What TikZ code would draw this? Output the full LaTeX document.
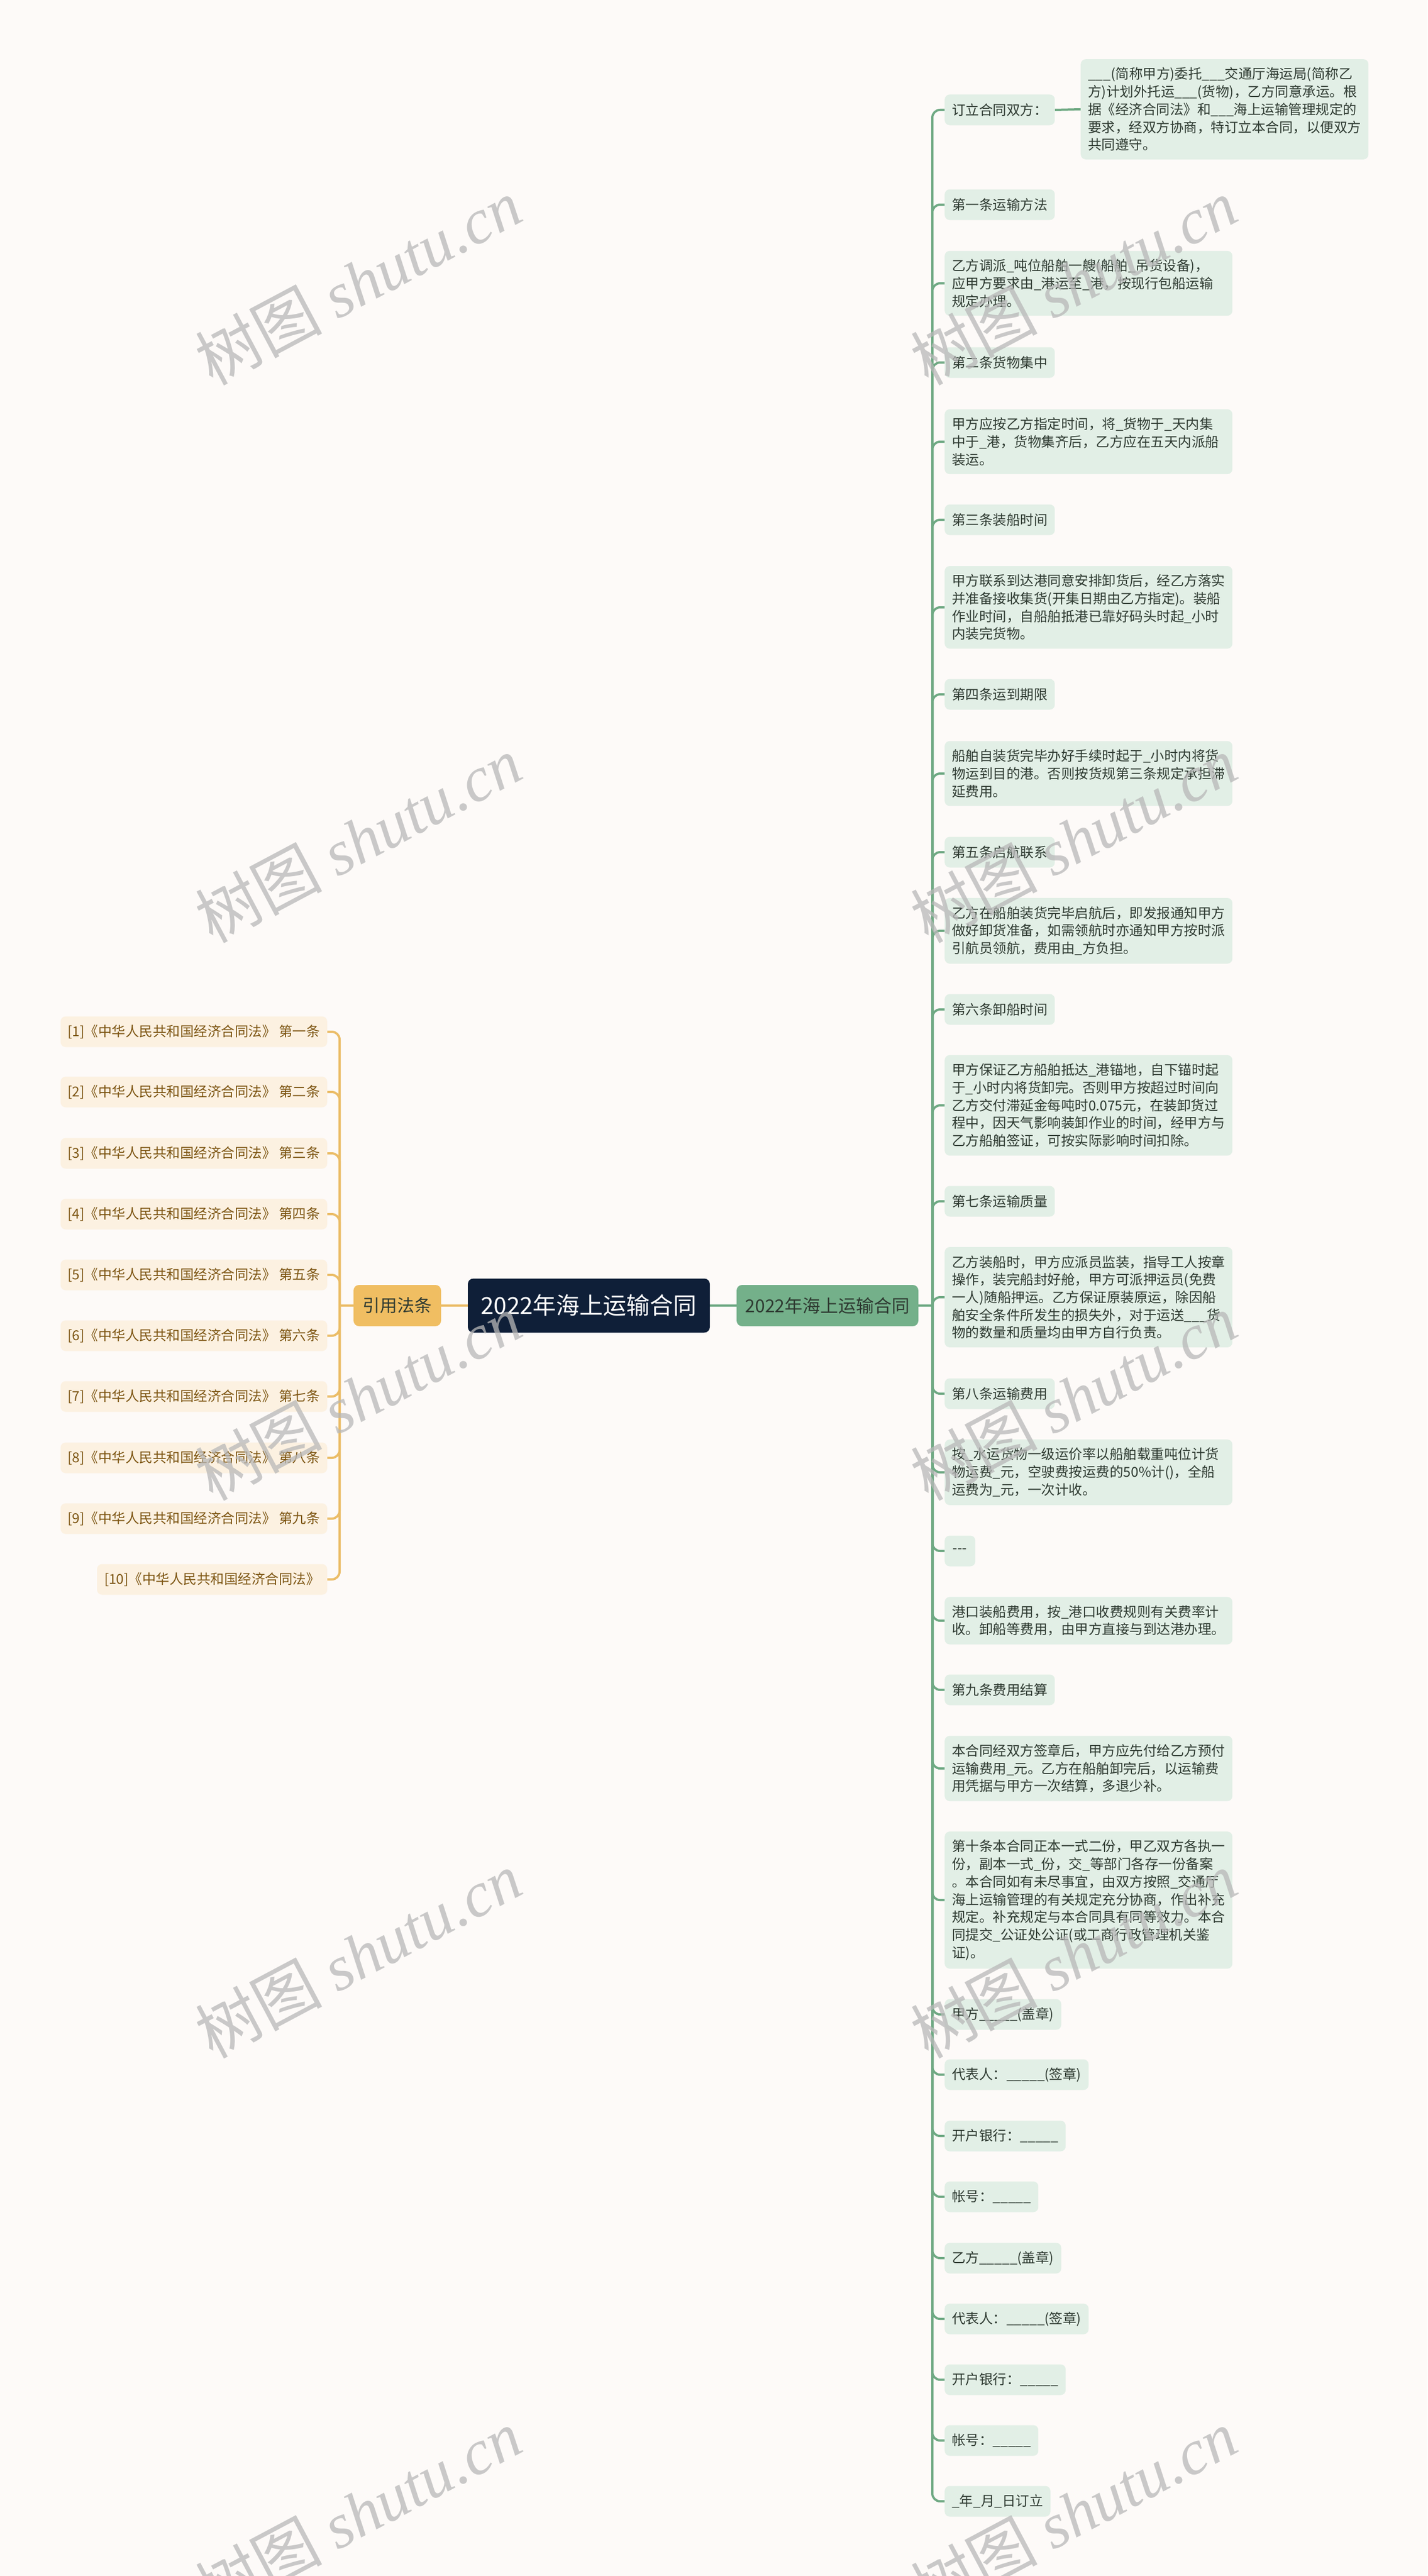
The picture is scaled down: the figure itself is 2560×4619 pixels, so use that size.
\documentclass[tikz,border=0pt]{standalone}
\usepackage{fontspec}
\setmainfont{Noto Sans CJK SC}
\newfontfamily\wmlat{Liberation Serif}
\usetikzlibrary{backgrounds}
\definecolor{cBg}{HTML}{FDFAF8}
\definecolor{cLeafG}{HTML}{E2EFE6}
\definecolor{cLeafTxt}{HTML}{2E3A31}
\definecolor{cGLine}{HTML}{6FA983}
\definecolor{cGNode}{HTML}{74B08A}
\definecolor{cRoot}{HTML}{0F1F38}
\definecolor{cONode}{HTML}{F0BE62}
\definecolor{cOLine}{HTML}{EBBD68}
\definecolor{cLLeaf}{HTML}{FCF1E1}
\definecolor{cLTxt}{HTML}{7D5512}
\definecolor{cWm}{HTML}{B8B8B8}
\tikzset{
  lf/.style={fill=cLeafG, rounded corners=9pt, inner xsep=13pt, inner ysep=0pt,
    minimum height=55pt, text=cLeafTxt, font=\fontsize{24.5}{31.7}\selectfont, anchor=west},
  pr/.style={lf, text width=490pt, align=left, inner ysep=15pt},
  ll/.style={fill=cLLeaf, rounded corners=9pt, inner xsep=13pt, inner ysep=0pt,
    minimum height=55pt, text=cLTxt, font=\fontsize{24.5}{31.7}\selectfont, anchor=east},
  gl/.style={draw=cGLine, line width=4pt},
  ol/.style={draw=cOLine, line width=4pt},
  wm/.style={text=cWm, opacity=0.75, font=\fontsize{114}{114}\selectfont, rotate=28},
}
\begin{document}
\begin{tikzpicture}[x=1pt,y=-1pt]
\useasboundingbox (0,0) rectangle (2560,4619);

% main nodes
\node[fill=cRoot, rounded corners=10pt, text=white, minimum width=434pt, minimum height=97pt,
  inner sep=0pt, font=\fontsize{42}{48}\selectfont] (root) at (1056,2341) {2022年海上运输合同};
\node[fill=cGNode, rounded corners=10pt, text=cLeafTxt, minimum width=326pt, minimum height=74pt,
  inner sep=0pt, font=\fontsize{32}{38}\selectfont] (g) at (1484,2341) {2022年海上运输合同};
\node[fill=cONode, rounded corners=10pt, text=cLeafTxt, minimum width=157pt, minimum height=74pt,
  inner sep=0pt, font=\fontsize{31}{36}\selectfont] (yin) at (712.5,2341) {引用法条};

\coordinate (gj) at (1672,2341);
\coordinate (lj) at (609,2341);

% right children
\node[lf] (r1) at (1694,197) {订立合同双方：};
\node[pr] (s1) at (1938,196) {\_\_\_(简称甲方)委托\_\_\_交通厅海运局(简称乙\\方)计划外托运\_\_\_(货物)，乙方同意承运。根\\据《经济合同法》和\_\_\_海上运输管理规定的\\要求，经双方协商，特订立本合同，以便双方\\共同遵守。};
\node[lf] (r2) at (1694,367) {第一条运输方法};
\node[pr] (r3) at (1694,508) {乙方调派\_吨位船舶一艘(船舶\_吊货设备)，\\应甲方要求由\_港运至\_港，按现行包船运输\\规定办理。};
\node[lf] (r4) at (1694,650) {第二条货物集中};
\node[pr] (r5) at (1694,792) {甲方应按乙方指定时间，将\_货物于\_天内集\\中于\_港，货物集齐后，乙方应在五天内派船\\装运。};
\node[lf] (r6) at (1694,932) {第三条装船时间};
\node[pr] (r7) at (1694,1089) {甲方联系到达港同意安排卸货后，经乙方落实\\并准备接收集货(开集日期由乙方指定)。装船\\作业时间，自船舶抵港已靠好码头时起\_小时\\内装完货物。};
\node[lf] (r8) at (1694,1245) {第四条运到期限};
\node[pr] (r9) at (1694,1387) {船舶自装货完毕办好手续时起于\_小时内将货\\物运到目的港。否则按货规第三条规定承担滞\\延费用。};
\node[lf] (r10) at (1694,1528) {第五条启航联系};
\node[pr] (r11) at (1694,1669) {乙方在船舶装货完毕启航后，即发报通知甲方\\做好卸货准备，如需领航时亦通知甲方按时派\\引航员领航，费用由\_方负担。};
\node[lf] (r12) at (1694,1810) {第六条卸船时间};
\node[pr] (r13) at (1694,1982) {甲方保证乙方船舶抵达\_港锚地，自下锚时起\\于\_小时内将货卸完。否则甲方按超过时间向\\乙方交付滞延金每吨时0.075元，在装卸货过\\程中，因天气影响装卸作业的时间，经甲方与\\乙方船舶签证，可按实际影响时间扣除。};
\node[lf] (r14) at (1694,2154) {第七条运输质量};
\node[pr] (r15) at (1694,2326) {乙方装船时，甲方应派员监装，指导工人按章\\操作，装完船封好舱，甲方可派押运员(免费\\一人)随船押运。乙方保证原装原运，除因船\\舶安全条件所发生的损失外，对于运送\_\_\_货\\物的数量和质量均由甲方自行负责。};
\node[lf] (r16) at (1694,2499) {第八条运输费用};
\node[pr] (r17) at (1694,2640) {按\_水运货物一级运价率以船舶载重吨位计货\\物运费\_元，空驶费按运费的50\%计()，全船\\运费为\_元，一次计收。};
\node[lf, minimum width=55pt] (r18) at (1694,2781) {-{}-{}-};
\node[pr] (r19) at (1694,2906) {港口装船费用，按\_港口收费规则有关费率计\\收。卸船等费用，由甲方直接与到达港办理。};
\node[lf] (r20) at (1694,3030) {第九条费用结算};
\node[pr] (r21) at (1694,3171) {本合同经双方签章后，甲方应先付给乙方预付\\运输费用\_元。乙方在船舶卸完后，以运输费\\用凭据与甲方一次结算，多退少补。};
\node[pr] (r22) at (1694,3407) {第十条本合同正本一式二份，甲乙双方各执一\\份，副本一式\_份，交\_等部门各存一份备案\\。本合同如有未尽事宜，由双方按照\_交通厅\\海上运输管理的有关规定充分协商，作出补充\\规定。补充规定与本合同具有同等效力。本合\\同提交\_公证处公证(或工商行政管理机关鉴\\证)。};
\node[lf] (r23) at (1694,3612) {甲方\_\_\_\_\_(盖章)};
\node[lf] (r24) at (1694,3720) {代表人：\_\_\_\_\_(签章)};
\node[lf] (r25) at (1694,3830) {开户银行：\_\_\_\_\_};
\node[lf] (r26) at (1694,3939) {帐号：\_\_\_\_\_};
\node[lf] (r27) at (1694,4049) {乙方\_\_\_\_\_(盖章)};
\node[lf] (r28) at (1694,4158) {代表人：\_\_\_\_\_(签章)};
\node[lf] (r29) at (1694,4267) {开户银行：\_\_\_\_\_};
\node[lf] (r30) at (1694,4376) {帐号：\_\_\_\_\_};
\node[lf] (r31) at (1694,4485) {\_年\_月\_日订立};

% left children
\node[ll] (l1) at (587,1850) {[1]《中华人民共和国经济合同法》 第一条};
\node[ll] (l2) at (587,1958) {[2]《中华人民共和国经济合同法》 第二条};
\node[ll] (l3) at (587,2068) {[3]《中华人民共和国经济合同法》 第三条};
\node[ll] (l4) at (587,2177) {[4]《中华人民共和国经济合同法》 第四条};
\node[ll] (l5) at (587,2286) {[5]《中华人民共和国经济合同法》 第五条};
\node[ll] (l6) at (587,2395) {[6]《中华人民共和国经济合同法》 第六条};
\node[ll] (l7) at (587,2504) {[7]《中华人民共和国经济合同法》 第七条};
\node[ll] (l8) at (587,2614) {[8]《中华人民共和国经济合同法》 第八条};
\node[ll] (l9) at (587,2723) {[9]《中华人民共和国经济合同法》 第九条};
\node[ll] (l10) at (587,2832) {[10]《中华人民共和国经济合同法》};

\begin{scope}[on background layer]
  \fill[cBg] (0,0) rectangle (2560,4619);
  \draw[gl] (root.east) -- (g.west);
  \draw[ol] (root.west) -- (yin.east);
  \draw[gl] (g.east) -- (gj);
  \draw[ol] (yin.west) -- (lj);
  \foreach \i in {1,...,31} {\draw[gl, rounded corners=14pt] (gj) |- (r\i.west);}
  \draw[gl] (r1.east) -- (s1.west);
  \foreach \i in {1,...,10} {\draw[ol, rounded corners=14pt] (lj) |- (l\i.east);}
\end{scope}

% watermarks
\foreach \yy in {505,1505,2505,3505,4505} {
  \node[wm] at (642,\yy) {树图 {\wmlat\itshape shutu.cn}};
  \node[wm] at (1925,\yy) {树图 {\wmlat\itshape shutu.cn}};
}
\end{tikzpicture}
\end{document}
